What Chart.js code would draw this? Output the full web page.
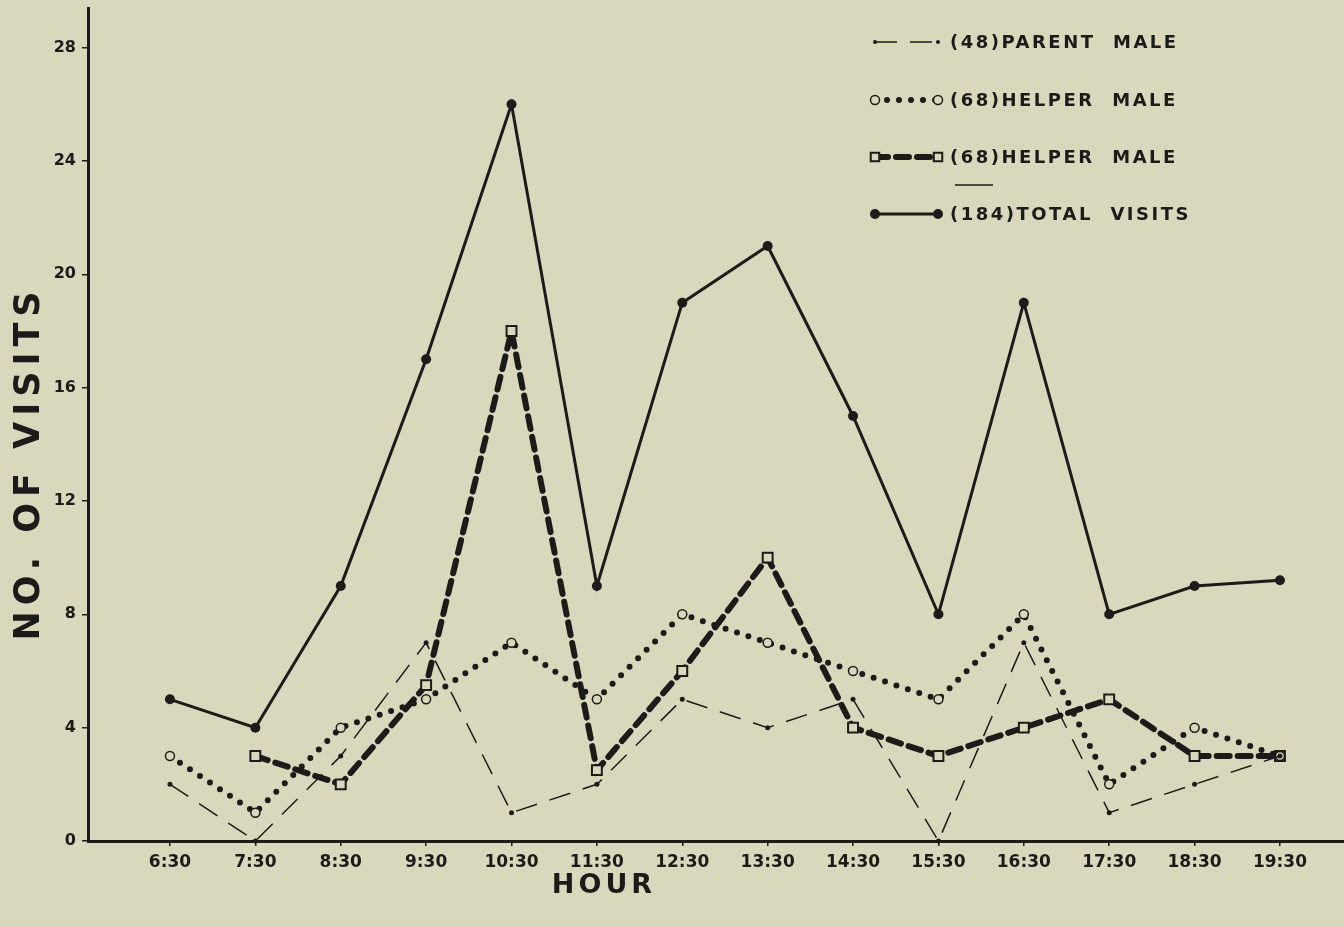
<!DOCTYPE html>
<html>
<head>
<meta charset="utf-8">
<script src="https://cdn.jsdelivr.net/npm/chart.js@4.4.1/dist/chart.umd.min.js"></script>
<style>
  html, body { margin: 0; padding: 0; background: #d9d8bc; overflow: hidden; }
  #wrap { width: 1344px; height: 927px; position: relative; }
</style>
</head>
<body>
<div id="wrap"><canvas id="visits-chart"></canvas></div>
<script>
const INK = '#1d1b19'
const BG = '#d9d8bc'

const hours = ['6:30', '7:30', '8:30', '9:30', '10:30', '11:30', '12:30', '13:30', '14:30', '15:30', '16:30', '17:30', '18:30', '19:30']
const parentMale = [2, 0, 3, 7, 1, 2, 5, 4, 5, 0, 7, 1, 2, 3]
const helperMaleDotted = [3, 1, 4, 5, 7, 5, 8, 7, 6, 5, 8, 2, 4, 3]
const helperMaleDashed = [null, 3, 2, 5.5, 18, 2.5, 6, 10, 4, 3, 4, 5, 3, 3]
const totalVisits = [5, 4, 9, 17, 26, 9, 19, 21, 15, 8, 19, 8, 9, 9.2]
const yTicks = [0, 4, 8, 12, 16, 20, 24, 28]
const legendLabels = ['(48)PARENT  MALE', '(68)HELPER  MALE', '(68)HELPER  MALE', '(184)TOTAL  VISITS']

const toPoints = arr => arr.map((v, i) => ({ x: i, y: v }))

// line styles, shared by datasets and the legend samples
const styles = [
    { borderWidth: 1.5, borderDash: [22, 13], borderCapStyle: 'butt', pointStyle: 'circle', pointRadius: 2.5, pointBackgroundColor: INK, pointBorderWidth: 0 },
    { borderWidth: 6, borderDash: [0, 12], borderCapStyle: 'round', pointStyle: 'circle', pointRadius: 4.5, pointBackgroundColor: BG, pointBorderWidth: 1.5 },
    { borderWidth: 6, borderDash: [13, 8], borderCapStyle: 'round', pointStyle: 'rect', pointRadius: 7, pointBackgroundColor: BG, pointBorderWidth: 2 },
    { borderWidth: 3, borderDash: [], borderCapStyle: 'round', pointStyle: 'circle', pointRadius: 5, pointBackgroundColor: INK, pointBorderWidth: 0 }
]

const seriesData = [parentMale, helperMaleDotted, helperMaleDashed, totalVisits]

const datasets = seriesData.map((arr, i) => Object.assign({
    label: legendLabels[i],
    data: toPoints(arr),
    borderColor: INK,
    pointBorderColor: INK,
    tension: 0,
    spanGaps: false,
    clip: false
}, styles[i]))

function spacedText(ctx, text, x, y, spacing) {
    ctx.letterSpacing = spacing + 'px'
    ctx.fillText(text, x, y)
    ctx.letterSpacing = '0px'
}

function drawSample(ctx, st, x1, x2, y) {
    ctx.save()
    ctx.strokeStyle = INK
    ctx.lineWidth = st.borderWidth
    ctx.lineCap = st.borderCapStyle
    ctx.setLineDash(st.borderDash)
    ctx.beginPath()
    ctx.moveTo(x1, y)
    ctx.lineTo(x2, y)
    ctx.stroke()
    ctx.setLineDash([])
    ;[x1, x2].forEach(px => {
        ctx.fillStyle = st.pointBackgroundColor
        ctx.strokeStyle = INK
        ctx.lineWidth = st.pointBorderWidth
        Chart.helpers.drawPoint(ctx, {
            pointStyle: st.pointStyle,
            radius: st.pointStyle === 'rect' ? 6 : (st.pointRadius === 2.5 ? 2 : st.pointRadius),
            borderWidth: st.pointBorderWidth
        }, px, y)
    })
    ctx.restore()
}

const decorPlugin = {
    id: 'decor',
    afterDraw(chart) {
        const ctx = chart.ctx
        ctx.save()
        ctx.fillStyle = INK

        // axis titles
        ctx.font = 'bold 35px "DejaVu Sans"'
        ctx.textAlign = 'center'
        ctx.textBaseline = 'middle'
        ctx.save()
        ctx.translate(30, 466)
        ctx.rotate(-Math.PI / 2)
        spacedText(ctx, 'NO. OF VISITS', 3, 0, 6)
        ctx.restore()

        ctx.font = 'bold 27px "DejaVu Sans"'
        spacedText(ctx, 'HOUR', 604, 886, 4)

        // legend
        const rows = [42, 100, 157, 214]
        ctx.font = 'bold 18px "DejaVu Sans"'
        ctx.textAlign = 'left'
        rows.forEach((ry, i) => {
            drawSample(ctx, styles[i], 875, 938, ry)
            ctx.fillStyle = INK
            spacedText(ctx, legendLabels[i], 950, ry + 1, 2.5)
        })
        // small rule above the last entry
        ctx.strokeStyle = INK
        ctx.lineWidth = 1.5
        ctx.beginPath()
        ctx.moveTo(955, 185)
        ctx.lineTo(993, 185)
        ctx.stroke()
        ctx.restore()
    }
}

Chart.register(decorPlugin)

const chart = new Chart(document.getElementById('visits-chart'), {
    type: 'line',
    data: { datasets: datasets },
    options: {
        responsive: true,
        maintainAspectRatio: false,
        animation: false,
        layout: { autoPadding: false, padding: { top: 8, right: 0, left: 0, bottom: 0 } },
        plugins: {
            legend: { display: false },
            tooltip: { enabled: false }
        },
        scales: {
            x: {
                type: 'linear',
                min: -0.96,
                max: 13.75,
                afterBuildTicks: scale => { scale.ticks = hours.map((h, i) => ({ value: i })) },
                afterFit: scale => {
                    scale.height = 86
                    scale.paddingLeft = 0
                    scale.paddingRight = 0
                },
                ticks: {
                    callback: v => hours[v],
                    color: INK,
                    font: { family: 'DejaVu Sans', size: 17, weight: 'bold' },
                    padding: 6,
                    maxRotation: 0,
                    autoSkip: false
                },
                grid: { drawOnChartArea: false, drawTicks: true, tickLength: 5, color: INK, lineWidth: 1.5 },
                border: { display: true, color: INK, width: 3 }
            },
            y: {
                min: 0,
                max: 29.4,
                afterBuildTicks: scale => { scale.ticks = yTicks.map(v => ({ value: v })) },
                afterFit: scale => {
                    scale.width = 88
                    scale.paddingTop = 0
                    scale.paddingBottom = 0
                },
                ticks: {
                    color: INK,
                    font: { family: 'DejaVu Sans', size: 16, weight: 'bold' },
                    padding: 6
                },
                grid: { drawOnChartArea: false, drawTicks: true, tickLength: 6, color: INK, lineWidth: 1.5 },
                border: { display: true, color: INK, width: 3 }
            }
        }
    }
})
</script>
</body>
</html>
